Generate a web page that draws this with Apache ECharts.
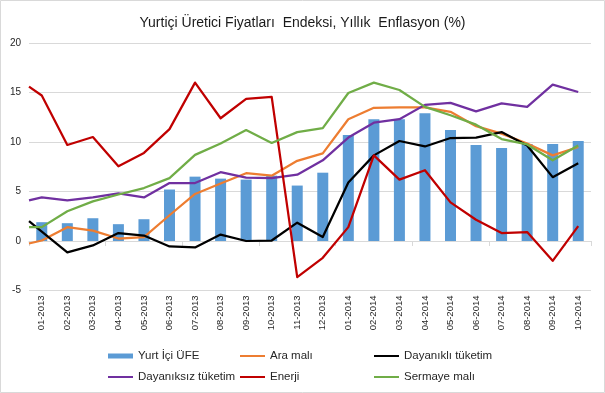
<!DOCTYPE html>
<html>
<head>
<meta charset="utf-8">
<script src="https://cdn.jsdelivr.net/npm/echarts@6/dist/echarts.min.js"></script>
<style>
  html, body { margin: 0; padding: 0; background: #fff; }
  #chart { width: 605px; height: 393px; }
</style>
</head>
<body>
<div id="chart"></div>
<script>
// ---- data ----
const categories = ['01-2013','02-2013','03-2013','04-2013','05-2013','06-2013','07-2013','08-2013','09-2013','10-2013','11-2013','12-2013',
                    '01-2014','02-2014','03-2014','04-2014','05-2014','06-2014','07-2014','08-2014','09-2014','10-2014'];
const yTicks = [-5, 0, 5, 10, 15, 20];
const yurtIciUfe = [1.9, 1.8, 2.3, 1.7, 2.2, 5.2, 6.5, 6.3, 6.2, 6.6, 5.6, 6.9, 10.7, 12.3, 12.3, 12.9, 11.2, 9.7, 9.4, 9.8, 9.8, 10.1];
// line series: first value sits at the left edge of the plot, then one value per category
const araMali          = [-0.25, 0.05, 1.4, 1.05, 0.25, 0.4, 2.6, 4.75, 5.8, 6.85, 6.6, 8.1, 8.85, 12.3, 13.45, 13.5, 13.5, 13.05, 11.6, 10.85, 9.85, 8.65, 9.5];
const dayanikliTuketim = [2.0, 0.95, -1.15, -0.45, 0.8, 0.55, -0.55, -0.65, 0.65, 0.0, 0.05, 1.85, 0.4, 5.9, 8.65, 10.1, 9.55, 10.4, 10.45, 11.0, 9.65, 6.45, 7.85];
const dayaniksizTuketim= [4.1, 4.4, 4.1, 4.4, 4.8, 4.4, 5.85, 5.85, 6.95, 6.4, 6.35, 6.7, 8.15, 10.45, 11.95, 12.3, 13.75, 13.95, 13.1, 13.9, 13.55, 15.8, 15.05];
const enerji           = [15.6, 14.7, 9.7, 10.5, 7.55, 8.9, 11.3, 16.0, 12.4, 14.35, 14.55, -3.65, -1.7, 1.4, 8.65, 6.2, 7.15, 3.9, 2.15, 0.8, 0.9, -2.0, 1.5];
const sermayeMali      = [1.4, 1.4, 3.0, 4.0, 4.7, 5.35, 6.35, 8.7, 9.85, 11.2, 9.9, 11.0, 11.4, 14.95, 16.0, 15.25, 13.55, 12.7, 11.75, 10.3, 9.75, 8.15, 9.65];

const FONT = 'Liberation Sans, Arial, sans-serif';
const lineX = [-0.5].concat(categories.map((c, i) => i));
const pairs = vals => vals.map((v, i) => [lineX[i], v]);

function lineSeries(name, vals, color) {
  return {
    name: name, type: 'line', xAxisIndex: 2, data: pairs(vals),
    symbol: 'none', showSymbol: false, clip: true, z: 3,
    lineStyle: { color: color, width: 2.25, join: 'round' },
    itemStyle: { color: color }
  };
}
function lineLegendItem(name) {
  return { name: name, itemStyle: { color: 'rgba(0,0,0,0)', borderColor: 'rgba(0,0,0,0)', borderWidth: 0 } };
}

const legendCommon = {
  orient: 'vertical', padding: 0, itemWidth: 25, itemHeight: 5, itemGap: 7,
  textStyle: { fontFamily: FONT, fontSize: 11.5, color: '#262626', lineHeight: 14 },
  top: 349
};

const chart = echarts.init(document.getElementById('chart'), null, { renderer: 'canvas' });
chart.setOption({
  animation: false,
  backgroundColor: '#fff',
  title: {
    text: 'Yurtiçi Üretici Fiyatları  Endeksi, Yıllık  Enflasyon (%)',
    left: 'center', top: 11,
    textStyle: { fontFamily: FONT, fontSize: 14, fontWeight: 'normal', color: '#1a1a1a' }
  },
  graphic: [{
    type: 'rect', shape: { x: 0.5, y: 0.5, width: 604, height: 392 },
    style: { fill: 'none', stroke: '#d9d9d9', lineWidth: 1 }, silent: true
  }],
  legend: [
    Object.assign({ left: 107, data: [{ name: 'Yurt İçi ÜFE', icon: 'rect' }, lineLegendItem('Dayanıksız tüketim')] }, legendCommon),
    Object.assign({ left: 239, data: [lineLegendItem('Ara malı'), lineLegendItem('Enerji')] }, legendCommon),
    Object.assign({ left: 373, data: [lineLegendItem('Dayanıklı tüketim'), lineLegendItem('Sermaye malı')] }, legendCommon)
  ],
  grid: { left: 29, right: 14, top: 43, bottom: 102.5 },
  xAxis: [
    { type: 'category', data: categories, boundaryGap: true,
      axisLine: { show: true, onZero: true, lineStyle: { color: '#d9d9d9', width: 1 } },
      axisTick: { show: true, length: 5, lineStyle: { color: '#d9d9d9' } },
      axisLabel: { show: false }, splitLine: { show: false } },
    { type: 'category', data: categories, boundaryGap: true, position: 'bottom',
      axisLine: { show: false, onZero: false }, axisTick: { show: false },
      axisLabel: { show: true, rotate: 90, interval: 0, margin: 5, fontFamily: FONT, fontSize: 9.5, color: '#262626' },
      splitLine: { show: false } },
    { type: 'value', min: -0.5, max: categories.length - 0.5, show: false }
  ],
  yAxis: {
    type: 'value', min: yTicks[0], max: yTicks[yTicks.length - 1], interval: yTicks[1] - yTicks[0],
    axisLine: { show: false }, axisTick: { show: false },
    axisLabel: { margin: 8, fontFamily: FONT, fontSize: 10, color: '#262626' },
    splitLine: { lineStyle: { color: '#d9d9d9', width: 1 } }
  },
  series: [
    { name: 'Yurt İçi ÜFE', type: 'bar', xAxisIndex: 0, data: yurtIciUfe, barWidth: 11,
      itemStyle: { color: '#5b9bd5' }, z: 2 },
    lineSeries('Ara malı', araMali, '#ed7d31'),
    lineSeries('Dayanıklı tüketim', dayanikliTuketim, '#000000'),
    lineSeries('Dayanıksız tüketim', dayaniksizTuketim, '#7030a0'),
    lineSeries('Enerji', enerji, '#c00000'),
    lineSeries('Sermaye malı', sermayeMali, '#70ad47')
  ]
});
</script>
</body>
</html>
